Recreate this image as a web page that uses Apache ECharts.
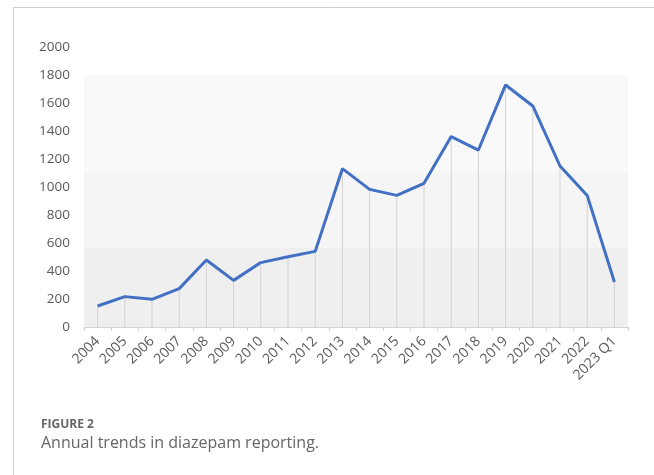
<!DOCTYPE html>
<html><head><meta charset="utf-8">
<script src="https://cdn.jsdelivr.net/npm/echarts@6/dist/echarts.min.js"></script>
<style>html,body{margin:0;padding:0;background:#fff}#c{width:654px;height:475px}</style>
</head><body><div id="c"></div>
<script>
const categories = ['2004','2005','2006','2007','2008','2009','2010','2011','2012','2013','2014','2015','2016','2017','2018','2019','2020','2021','2022','2023 Q1'];
const reports = [150,217,198,274,479,333,460,502,540,1131,983,940,1026,1360,1264,1729,1579,1150,940,321];
const yTicks = {min:0, max:2000, interval:200};
const captionLabel = 'FIGURE 2';
const captionText = 'Annual trends in diazepam reporting.';

const chart = echarts.init(document.getElementById('c'), null, {renderer:'canvas'});
const font = '"Open Sans", "Noto Sans", sans-serif';
chart.setOption({
  animation:false,
  textStyle:{fontFamily:font},
  title:{
    left:36, top:414,
    text:captionLabel,
    subtext:captionText,
    itemGap:4,
    textStyle:{fontFamily:font, fontSize:12, fontWeight:'bold', color:'#666'},
    subtextStyle:{fontFamily:font, fontSize:16, color:'#666'}
  },
  graphic:[
    {type:'line', shape:{x1:13.5,y1:7,x2:13.5,y2:475}, style:{stroke:'#cfcfcf', lineWidth:1}, silent:true},
    {type:'line', shape:{x1:13,y1:7.5,x2:654,y2:7.5}, style:{stroke:'#cfcfcf', lineWidth:1}, silent:true}
  ],
  grid:{left:84, right:26, top:47, bottom:148},
  xAxis:{
    type:'category', data:categories, boundaryGap:true,
    axisLine:{lineStyle:{color:'#d4d4d4', width:1}},
    axisTick:{show:true, length:4, lineStyle:{color:'#d4d4d4'}},
    axisLabel:{rotate:45, fontSize:14, color:'#595959', margin:12, interval:0, fontFamily:font},
    splitLine:{show:false}
  },
  yAxis:{
    type:'value', min:yTicks.min, max:yTicks.max, interval:yTicks.interval,
    axisLine:{show:false}, axisTick:{show:false},
    axisLabel:{fontSize:13.5, color:'#595959', margin:14, fontFamily:font, formatter:function(v){return String(v);}},
    splitLine:{show:false}
  },
  series:[
    {
      type:'bar', data:reports, barWidth:1, silent:true,
      itemStyle:{color:'#d2d2d2'},
      markArea:{silent:true, data:[
        [{yAxis:0, itemStyle:{color:'#efefef'}},{yAxis:570}],
        [{yAxis:570, itemStyle:{color:'#f5f5f5'}},{yAxis:1100}],
        [{yAxis:1100, itemStyle:{color:'#f9f9f9'}},{yAxis:1800}]
      ]}
    },
    {
      type:'line', data:reports, symbol:'none', silent:true,
      lineStyle:{color:'#4270c4', width:3},
      z:5
    }
  ]
});
</script></body></html>
